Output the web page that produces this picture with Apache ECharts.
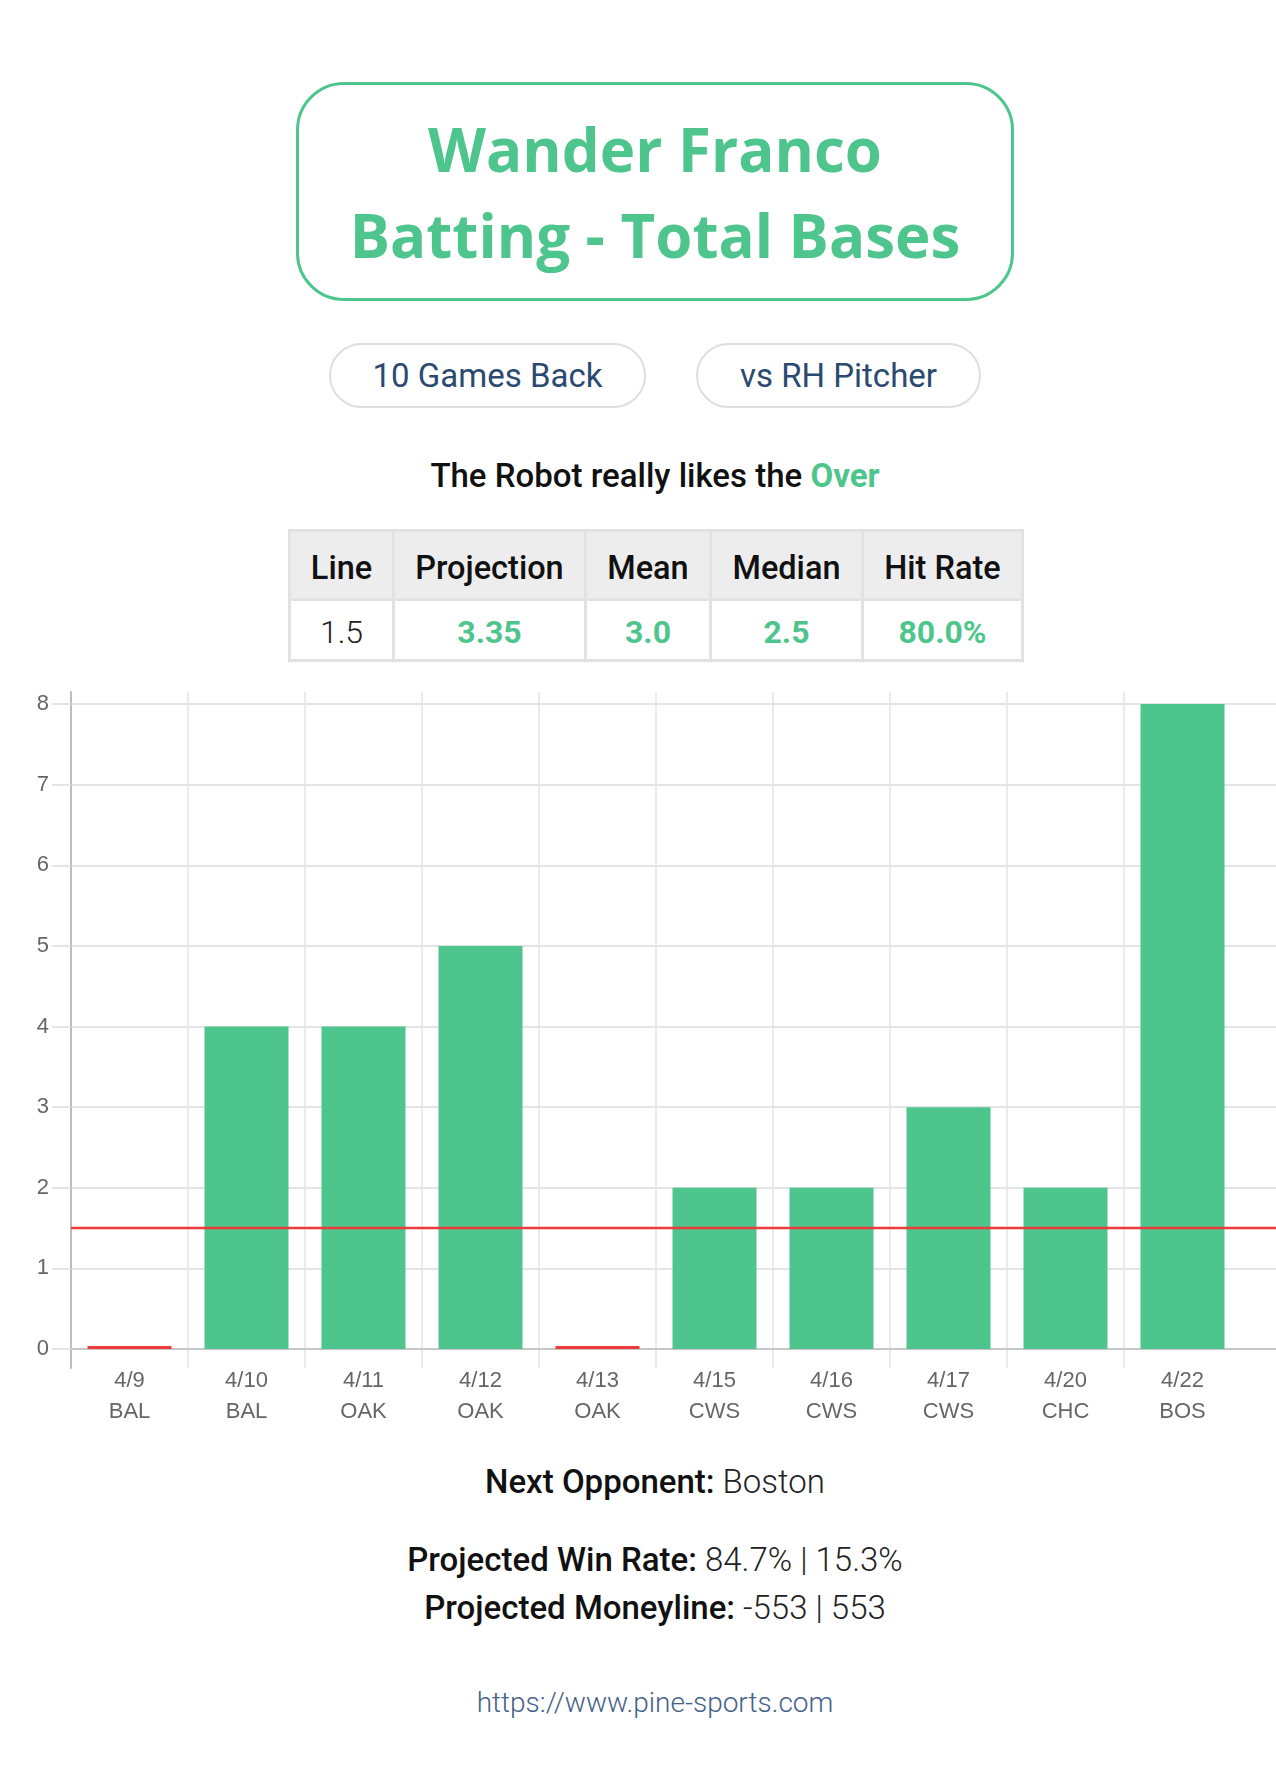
<!DOCTYPE html>
<html>
<head>
<meta charset="utf-8">
<script src="https://cdn.jsdelivr.net/npm/echarts@6/dist/echarts.min.js"></script>
<style>
  html, body { margin: 0; padding: 0; background: #fff; width: 1276px; height: 1766px; overflow: hidden; }
  #page { position: relative; width: 1276px; height: 1766px; font-family: Roboto, "Noto Sans", sans-serif; }
  .abs { position: absolute; }
  .center { left: 0; width: 1310px; text-align: center; white-space: nowrap; }
  .titleBox { left: 296px; top: 82px; width: 718px; height: 219px; box-sizing: border-box;
              border: 3px solid #4fc58e; border-radius: 48px; }
  .title { top: 106px; font-family: "Open Sans", sans-serif; font-weight: 700; font-size: 60px;
           line-height: 86px; color: #4fc58e; }
  .btn { top: 343px; height: 65px; box-sizing: border-box; border: 2px solid #dedede; border-radius: 33px;
         display: flex; align-items: center; justify-content: center; font-size: 33px; color: #2b4a70; }
  .robot { top: 456px; font-size: 33px; line-height: 40px; font-weight: 500; color: #111; }
  .green { color: #4fc58e; font-weight: 700; }
  table.stats { position: absolute; left: 288px; top: 529px; width: 733px; border-collapse: collapse;
                table-layout: fixed; font-family: Roboto, sans-serif; }
  table.stats td, table.stats th { border: 3px solid #e2e2e2; text-align: center; padding: 0; }
  table.stats th { background: #ededed; font-weight: 500; color: #111; height: 69px; padding-top: 5px;
                   box-sizing: border-box; font-size: 32.5px; }
  table.stats td { height: 61px; padding-top: 3px; box-sizing: border-box; font-weight: 700; color: #4fc58e; font-size: 32px; }
  table.stats td.plain { font-weight: 300; color: #222; }
  .foot { font-size: 33px; line-height: 40px; color: #222; font-weight: 300; }
  .foot b { font-weight: 500; color: #111; }
  .url { top: 1686px; font-size: 28px; line-height: 34px; font-weight: 300; color: #45628a; }
  #chart { position: absolute; left: 0; top: 600px; width: 1276px; height: 850px; }
</style>
</head>
<body>
<div id="page">
  <div class="abs titleBox"></div>
  <div class="abs center title">Wander Franco<br>Batting - Total Bases</div>

  <div class="abs btn" style="left:329px;width:317px;">10 Games Back</div>
  <div class="abs btn" style="left:696px;width:285px;">vs RH Pitcher</div>

  <div class="abs center robot">The Robot really likes the <span class="green">Over</span></div>

  <table class="stats" id="stats">
    <colgroup>
      <col style="width:104px"><col style="width:192px"><col style="width:125px"><col style="width:152px"><col style="width:160px">
    </colgroup>
    <thead><tr id="hdr"></tr></thead>
    <tbody><tr id="vals"></tr></tbody>
  </table>

  <div id="chart"></div>

  <div class="abs center foot" style="top:1462px;"><b>Next Opponent:</b> Boston</div>
  <div class="abs center foot" style="top:1540px;"><b>Projected Win Rate:</b> 84.7% | 15.3%</div>
  <div class="abs center foot" style="top:1588px;"><b>Projected Moneyline:</b> -553 | 553</div>
  <div class="abs center url">https://www.pine-sports.com</div>
</div>

<script>
// ---- Data ----
const dates = ['4/9', '4/10', '4/11', '4/12', '4/13', '4/15', '4/16', '4/17', '4/20', '4/22'];
const teams = ['BAL', 'BAL', 'OAK', 'OAK', 'OAK', 'CWS', 'CWS', 'CWS', 'CHC', 'BOS'];
const totalBases = [0, 4, 4, 5, 0, 2, 2, 3, 2, 8];
const lineValue = 1.5;
const yTickValues = [0, 1, 2, 3, 4, 5, 6, 7, 8];
const tableHeaders = ['Line', 'Projection', 'Mean', 'Median', 'Hit Rate'];
const tableValues = ['1.5', '3.35', '3.0', '2.5', '80.0%'];

// ---- Table ----
const hdr = document.getElementById('hdr');
const vals = document.getElementById('vals');
tableHeaders.forEach(h => { const th = document.createElement('th'); th.textContent = h; hdr.appendChild(th); });
tableValues.forEach((v, i) => { const td = document.createElement('td'); td.textContent = v; if (i === 0) td.className = 'plain'; vals.appendChild(td); });

// ---- Chart ----
const overColor = '#4fc58e';
const underColor = '#ec3b3b';
const gridColor = '#e4e4e4';
const labelFont = '"Liberation Sans", Arial, Helvetica, sans-serif';
const yTop = 8.15;       // axis extends slightly above the last tick
const belowZero = 0.236; // vertical gridlines/ticks extend below the zero line

const chart = echarts.init(document.getElementById('chart'), null, { renderer: 'canvas' });
chart.setOption({
  animation: false,
  grid: [
    { left: 71, top: 92, width: 1170, height: 676, outerBoundsMode: 'none', containLabel: false },
    { left: 71, top: 92, width: 1205, height: 657, outerBoundsMode: 'none', containLabel: false }
  ],
  xAxis: [
    {
      type: 'category', gridIndex: 0, position: 'bottom',
      data: dates.map((d, i) => d + '\n' + teams[i]),
      axisLine: { show: false, onZero: false },
      axisTick: { show: false },
      axisLabel: { interval: 0, fontFamily: labelFont, fontSize: 22, lineHeight: 31, color: '#666', margin: -3 },
      splitLine: { show: true, showMinLine: false, showMaxLine: false, lineStyle: { color: gridColor, width: 1.5 } }
    },
    {
      type: 'value', gridIndex: 1, min: 0, max: 1,
      axisLine: { show: true, onZero: true, lineStyle: { color: '#c6c6c6', width: 2 } },
      axisTick: { show: false }, axisLabel: { show: false }, splitLine: { show: false }
    }
  ],
  yAxis: [
    {
      type: 'value', gridIndex: 0, min: -belowZero, max: yTop,
      axisLine: { show: true, lineStyle: { color: '#bdbdbd', width: 2 } },
      axisTick: { show: false }, axisLabel: { show: false }, splitLine: { show: false }
    },
    {
      type: 'value', gridIndex: 1, min: 0, max: yTop, interval: 1,
      axisLine: { show: false },
      axisTick: { show: true, length: 19, customValues: yTickValues, lineStyle: { color: gridColor, width: 2 } },
      axisLabel: {
        customValues: yTickValues, fontFamily: labelFont, fontSize: 22, color: '#666', margin: 22,
        formatter: v => (yTickValues.indexOf(v) >= 0 ? String(v) : '')
      },
      splitLine: { show: true, lineStyle: { color: gridColor, width: 2 } }
    }
  ],
  series: [
    {
      type: 'bar', xAxisIndex: 0, yAxisIndex: 0, barWidth: 84, barMinHeight: 3,
      data: totalBases.map(v => ({ value: v, itemStyle: { color: v > lineValue ? overColor : underColor } }))
    },
    {
      type: 'line', xAxisIndex: 1, yAxisIndex: 1, symbol: 'none', silent: true, z: 10,
      data: [[0, lineValue], [1, lineValue]],
      lineStyle: { color: underColor, width: 2.5 }
    }
  ]
});
</script>
</body>
</html>
